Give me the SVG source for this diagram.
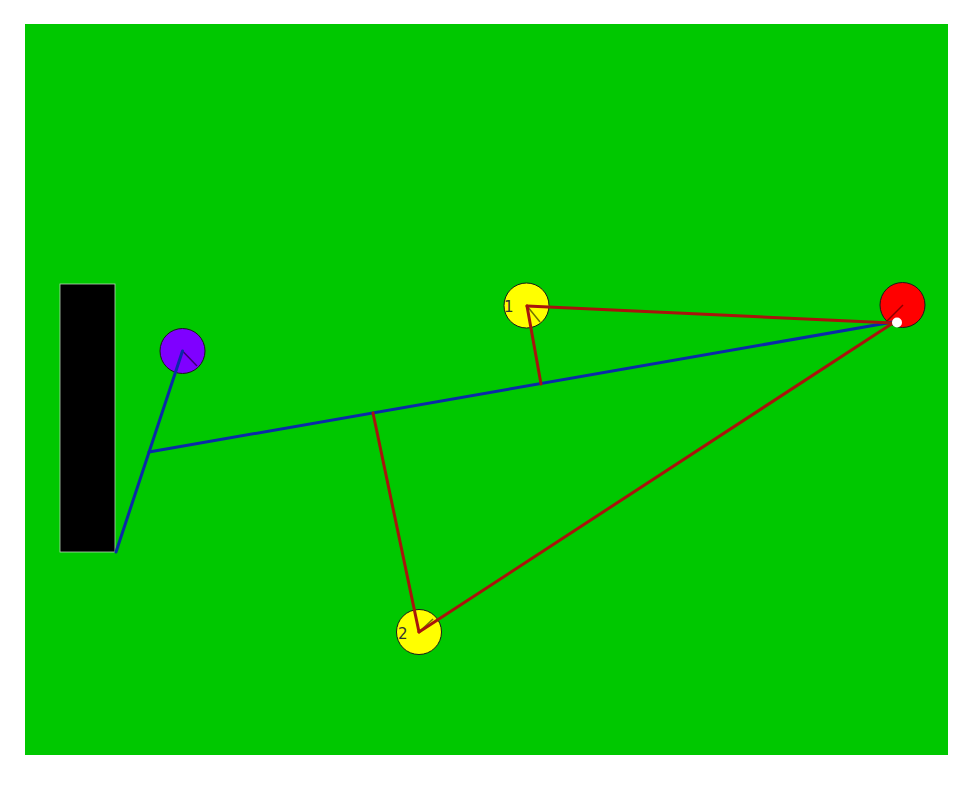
<svg xmlns="http://www.w3.org/2000/svg" width="976" height="785" viewBox="0 0 976 785">
<style>
.ray{stroke:#a8140c;stroke-width:3;fill:none;stroke-linecap:round}
.path{stroke:#0a2aa8;stroke-width:3;fill:none;stroke-linecap:round}
.ball{stroke:#1a1a1a;stroke-width:1}
.head{stroke:#000;stroke-opacity:0.55;stroke-width:1.5}
.lbl{font-family:"DejaVu Sans","Liberation Sans",sans-serif;font-size:15px;fill:#333}
</style>
<rect x="0" y="0" width="976" height="785" fill="#ffffff"/>
<rect id="field" x="25" y="24" width="923" height="731" fill="#00c800"/>
<g id="wall"><rect x="60" y="284" width="55" height="268" fill="#000" stroke="#b8d8b8" stroke-width="0.8"/></g>
<g id="purple"><circle class="ball" cx="182.5" cy="351" r="22.5" fill="#7f00ff"/><line class="head" x1="182.5" y1="351" x2="197" y2="366"/></g>
<g id="yellow1"><circle class="ball" cx="526.5" cy="305.5" r="22.5" fill="#ffff00"/><line class="head" x1="527" y1="306" x2="540" y2="322"/><text class="lbl" x="504" y="312">1</text></g>
<g id="yellow2"><circle class="ball" cx="419" cy="632" r="22.5" fill="#ffff00"/><line class="head" x1="419" y1="632" x2="433" y2="619"/><text class="lbl" x="398" y="638.5">2</text></g>
<g id="red"><circle class="ball" cx="902.5" cy="305" r="22.5" fill="#ff0000"/><line x1="903" y1="305" x2="886" y2="322" stroke="#8a0000" stroke-width="1.5"/></g>
<g id="connectors">
<line class="path" x1="116" y1="552" x2="182.5" y2="351"/>
<line class="path" x1="149" y1="452" x2="893" y2="322"/>
<line class="ray" x1="527" y1="306" x2="893" y2="323"/>
<line class="ray" x1="527" y1="306" x2="541" y2="384"/>
<line class="ray" x1="419" y1="632" x2="893" y2="323"/>
<line class="ray" x1="419" y1="632" x2="373" y2="413"/>
</g>
<g id="cue"><circle cx="897" cy="322.5" r="5" fill="#ffffff"/></g>
</svg>
